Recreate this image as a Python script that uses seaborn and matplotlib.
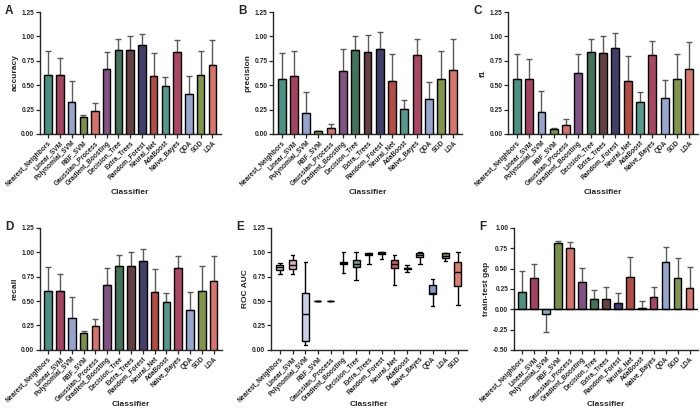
import numpy as np
import pandas as pd
import matplotlib
matplotlib.use("Agg")
import matplotlib.pyplot as plt
import seaborn as sns

classifiers = ["Nearest_Neighbors", "Linear_SVM", "Polynomial_SVM", "RBF_SVM", "Gaussian_Process",
               "Gradient_Boosting", "Decision_Tree", "Extra_Trees", "Random_Forest", "Neural_Net",
               "AdaBoost", "Naive_Bayes", "QDA", "SGD", "LDA"]
bar_colors = ["#3f9b8a", "#b2365c", "#8d9fd4", "#7f9c3d", "#e4645a", "#8b4a8c", "#3a7a58", "#6b3a3c",
              "#3b3870", "#c43d32", "#4aa394", "#b8385e", "#8ea2d6", "#86a13f", "#e8675b"]

accuracy = [0.60, 0.605, 0.33, 0.175, 0.24, 0.665, 0.865, 0.865, 0.91, 0.59, 0.49, 0.84, 0.41, 0.605, 0.705]
accuracy_sd = [0.25, 0.175, 0.215, 0.015, 0.075, 0.175, 0.11, 0.135, 0.12, 0.24, 0.09, 0.12, 0.18, 0.25, 0.255]
precision = [0.565, 0.595, 0.21, 0.03, 0.06, 0.65, 0.86, 0.84, 0.875, 0.545, 0.255, 0.805, 0.36, 0.565, 0.66]
precision_sd = [0.265, 0.255, 0.225, 0.005, 0.04, 0.225, 0.14, 0.175, 0.175, 0.28, 0.095, 0.17, 0.17, 0.29, 0.31]
f1 = [0.56, 0.56, 0.225, 0.05, 0.095, 0.63, 0.84, 0.835, 0.88, 0.54, 0.33, 0.805, 0.37, 0.56, 0.665]
f1_sd = [0.26, 0.205, 0.22, 0.01, 0.06, 0.195, 0.135, 0.165, 0.16, 0.255, 0.10, 0.15, 0.18, 0.265, 0.28]
recall = [0.60, 0.605, 0.33, 0.175, 0.24, 0.665, 0.865, 0.865, 0.91, 0.59, 0.49, 0.84, 0.41, 0.605, 0.705]
recall_sd = [0.25, 0.175, 0.215, 0.015, 0.075, 0.175, 0.11, 0.135, 0.12, 0.24, 0.09, 0.12, 0.18, 0.25, 0.255]
gap = [0.215, 0.385, -0.06, 0.815, 0.75, 0.33, 0.12, 0.125, 0.08, 0.40, 0.01, 0.15, 0.58, 0.38, 0.265]
gap_sd = [0.255, 0.175, 0.22, 0.02, 0.08, 0.175, 0.115, 0.145, 0.12, 0.245, 0.09, 0.12, 0.185, 0.25, 0.26]

# ROC AUC five-number summaries (min, q1, median, q3, max)
roc_classifiers = ["Nearest_Neighbors", "Linear_SVM", "Polynomial_SVM", "RBF_SVM", "Gaussian_Process",
                   "Gradient_Boosting", "Decision_Tree", "Extra_Trees", "Random_Forest", "Neural_Net",
                   "AdaBoost", "Naive_Bayes", "QDA", "LDA", "SGD"]
roc_colors = ["#9fd3c3", "#e3a3bb", "#c4cbee", "#cccccc", "#cccccc", "#333333", "#6fa88a", "#555555",
              "#777777", "#d9504a", "#888888", "#d893ad", "#7b91cb", "#8fad55", "#ee7263"]
roc_min = [0.78, 0.78, 0.05, 0.50, 0.50, 0.785, 0.715, 0.88, 0.93, 0.67, 0.80, 0.885, 0.45, 0.91, 0.455]
roc_q1 = [0.82, 0.83, 0.09, 0.50, 0.50, 0.88, 0.85, 0.97, 0.98, 0.84, 0.83, 0.95, 0.57, 0.94, 0.655]
roc_med = [0.85, 0.87, 0.365, 0.50, 0.50, 0.89, 0.88, 0.985, 0.99, 0.88, 0.835, 0.97, 0.58, 0.96, 0.80]
roc_q3 = [0.87, 0.92, 0.585, 0.50, 0.50, 0.90, 0.92, 0.99, 1.0, 0.92, 0.84, 0.99, 0.66, 0.99, 0.90]
roc_max = [0.89, 0.97, 0.90, 0.50, 0.50, 1.0, 1.0, 0.99, 1.0, 0.975, 0.87, 1.0, 0.73, 0.99, 1.0]

sns.set_style("ticks")
plt.rcParams['font.family'] = ['Liberation Sans', 'DejaVu Sans']
plt.rcParams['font.weight'] = 'bold'
plt.rcParams['axes.labelweight'] = 'bold'

fig = plt.figure(figsize=(7, 4.16), dpi=100)

FS_TICK = 4.8
FS_LABEL = 6.0


def style_axes(ax, ylabel, yticks, ylim, n, xlab_y):
    ax.set_ylim(*ylim)
    ax.set_yticks(yticks)
    ax.set_yticklabels([f"{t:.2f}" for t in yticks], fontsize=FS_TICK, fontweight='bold')
    ax.set_xlim(-0.7, n - 0.3)
    ax.tick_params(axis='x', labelsize=FS_TICK, length=3, width=0.9, pad=1)
    ax.tick_params(axis='y', length=3, width=0.9, pad=1)
    for lab in ax.get_xticklabels():
        lab.set_rotation(45)
        lab.set_ha('right')
        lab.set_rotation_mode('anchor')
        lab.set_fontweight('bold')
    ax.set_xlabel("Classifier", fontsize=FS_LABEL, fontweight='bold')
    ax.xaxis.set_label_coords(0.5, xlab_y)
    ax.xaxis.label.set_va('center')
    ax.set_ylabel(ylabel, fontsize=FS_LABEL, fontweight='bold', labelpad=2)
    sns.despine(ax=ax)
    for s in ['left', 'bottom']:
        ax.spines[s].set_linewidth(1.0)


def bar_panel(rect, values, sds, ylabel, letter, yticks, ylim, xlab_y):
    ax = fig.add_axes(rect)
    df = pd.DataFrame({"Classifier": classifiers, "value": values})
    sns.barplot(data=df, x="Classifier", y="value", hue="Classifier", palette=bar_colors,
                legend=False, ax=ax, width=0.64, edgecolor="black", linewidth=1.0,
                errorbar=None, zorder=3)
    vals = np.array(values)
    sd = np.array(sds)
    up = np.where(vals >= 0, sd, 0)
    lo = np.where(vals < 0, sd, 0)
    ax.errorbar(np.arange(len(classifiers)), vals, yerr=[lo, up], fmt='none',
                ecolor='#5a5a5a', elinewidth=1.0, capsize=2.2, capthick=1.0, zorder=2)
    style_axes(ax, ylabel, yticks, ylim, len(classifiers), xlab_y)
    if ylim[0] < 0:
        ax.axhline(0, color='black', lw=1.0, zorder=4)
    fig.text(rect[0] - 0.05, rect[1] + rect[3] + 0.003, letter, fontsize=8.5, fontweight='bold',
             va='center', ha='left')
    return ax


yt = [0, 0.25, 0.5, 0.75, 1.0, 1.25]
top_b, top_h = 0.678, 0.293
bot_b, bot_h = 0.159, 0.293

bar_panel([0.057, top_b, 0.258, top_h], accuracy, accuracy_sd, "accuracy", "A", yt, (0, 1.25), -0.48)
bar_panel([0.390, top_b, 0.270, top_h], precision, precision_sd, "precision", "B", yt, (0, 1.25), -0.48)
bar_panel([0.726, top_b, 0.271, top_h], f1, f1_sd, "f1", "C", yt, (0, 1.25), -0.48)
bar_panel([0.057, bot_b, 0.260, bot_h], recall, recall_sd, "recall", "D", yt, (0, 1.25), -0.45)
bar_panel([0.734, bot_b, 0.263, bot_h], gap, gap_sd, "train-test gap", "F",
          [-0.5, -0.25, 0, 0.25, 0.5, 0.75, 1.0], (-0.5, 1.0), -0.45)

# E: boxplot
rectE = [0.387, bot_b, 0.28, bot_h]
axE = fig.add_axes(rectE)
rows = []
for i, c in enumerate(roc_classifiers):
    for arr in (roc_min, roc_q1, roc_med, roc_q3, roc_max):
        rows.append({"Classifier": c, "ROC AUC": arr[i]})
dfE = pd.DataFrame(rows)
sns.boxplot(data=dfE, x="Classifier", y="ROC AUC", hue="Classifier", palette=roc_colors,
            legend=False, ax=axE, whis=(0, 100), width=0.55, linewidth=1.0, linecolor="black",
            order=roc_classifiers)
style_axes(axE, "ROC AUC", yt, (0, 1.25), len(roc_classifiers), -0.45)
fig.text(rectE[0] - 0.05, rectE[1] + rectE[3] + 0.003, "E", fontsize=8.5, fontweight='bold',
         va='center', ha='left')

fig.savefig("out.png", dpi=100)
